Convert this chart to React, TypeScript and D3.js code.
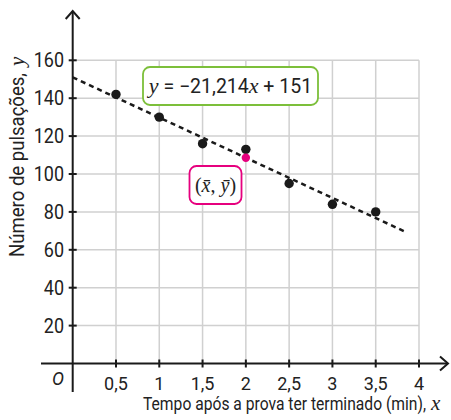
import React from "react";
import * as d3 from "d3";

const xValues = [0.5, 1, 1.5, 2, 2.5, 3, 3.5];
const yValues = [142, 130, 116, 113, 95, 84, 80];
const xTicks = [0.5, 1, 1.5, 2, 2.5, 3, 3.5, 4];
const yTicks = [20, 40, 60, 80, 100, 120, 140, 160];
const slope = -21.214;
const intercept = 151;
const lineEndX = 3.85;
const meanPoint = { x: d3.mean(xValues) as number, y: d3.mean(yValues) as number };

const W = 451;
const H = 420;
const font = "Roboto, 'Noto Sans', sans-serif";
const serif = "'Liberation Serif', 'DejaVu Serif', serif";
const SX = 0.86;

export default function App() {
  const x = d3.scaleLinear().domain([0, 4]).range([72.7, 419]);
  const y = d3.scaleLinear().domain([0, 160]).range([363.5, 60.3]);
  const fmt = (v: number) => String(v).replace(".", ",");
  const axisColor = "#1a1a1a";
  const gridColor = "#d0d0d0";
  const x0 = x(0);
  const y0 = y(0);
  const lineGen = d3.line<number>().x((d) => x(d)).y((d) => y(slope * d + intercept));

  return (
    <div style={{ position: "absolute", left: 0, top: 0 }}>
      <svg width={W} height={H} style={{ display: "block", background: "#fff" }}>
        {/* grid */}
        {xTicks.map((t) => (
          <line key={"gx" + t} x1={x(t)} x2={x(t)} y1={y0} y2={y(160)} stroke={gridColor} strokeWidth={1.5} />
        ))}
        {yTicks.map((t) => (
          <line key={"gy" + t} x1={x0} x2={x(4)} y1={y(t)} y2={y(t)} stroke={gridColor} strokeWidth={1.5} />
        ))}
        {/* axes */}
        <line x1={x0} x2={x0} y1={392} y2={11} stroke={axisColor} strokeWidth={2} />
        <polyline points={`${x0 - 7},${19} ${x0},${11} ${x0 + 7},${19}`} fill="none" stroke={axisColor} strokeWidth={2} />
        <line x1={41} x2={448} y1={y0} y2={y0} stroke={axisColor} strokeWidth={2} />
        <polyline points={`${440},${y0 - 7} ${448},${y0} ${440},${y0 + 7}`} fill="none" stroke={axisColor} strokeWidth={2} />
        {/* ticks */}
        {xTicks.map((t) => (
          <line key={"tx" + t} x1={x(t)} x2={x(t)} y1={y0 - 4} y2={y0 + 4} stroke={axisColor} strokeWidth={2} />
        ))}
        {yTicks.map((t) => (
          <line key={"ty" + t} x1={x0 - 4} x2={x0 + 4} y1={y(t)} y2={y(t)} stroke={axisColor} strokeWidth={2} />
        ))}
        {/* tick labels */}
        {xTicks.map((t) => (
          <text key={"lx" + t} x={x(t)} y={390} textAnchor="middle" fontFamily={font} fontSize={18} fill="#222">
            {fmt(t)}
          </text>
        ))}
        {yTicks.map((t) => (
          <g key={"ly" + t} transform={`translate(64,${y(t) + 7}) scale(0.9,1)`}>
            <text x={0} y={0} textAnchor="end" fontFamily={font} fontSize={20} fill="#222">
              {fmt(t)}
            </text>
          </g>
        ))}
        <text x={58} y={385} textAnchor="middle" fontFamily={font} fontSize={18} fontStyle="italic" fill="#222">O</text>
        {/* axis titles */}
        <g transform={`translate(143,410) scale(${SX},1)`}>
          <text x={0} y={0} fontFamily={font} fontSize={18.5} fill="#222" textLength={283 / SX} lengthAdjust="spacingAndGlyphs">
            Tempo após a prova ter terminado (min),
          </text>
        </g>
        <text x={431} y={410} fontFamily={serif} fontSize={21} fontStyle="italic" fill="#222">x</text>
        <g transform={`translate(24,257) rotate(-90) scale(${SX},1)`}>
          <text x={0} y={0} fontFamily={font} fontSize={19.5} fill="#222" textLength={184 / SX} lengthAdjust="spacingAndGlyphs">
            Número de pulsações,
          </text>
        </g>
        <g transform="translate(24,257) rotate(-90)">
          <text x={191} y={0} fontFamily={serif} fontSize={21} fontStyle="italic" fill="#222">y</text>
        </g>
        {/* regression line */}
        <path d={lineGen([0, lineEndX]) as string} fill="none" stroke={axisColor} strokeWidth={2.5} strokeDasharray="5,4" />
        {/* points */}
        {xValues.map((v, i) => (
          <circle key={"p" + i} cx={x(v)} cy={y(yValues[i])} r={4.7} fill="#1a1a1a" />
        ))}
        <circle cx={x(meanPoint.x)} cy={y(meanPoint.y)} r={4.2} fill="#e6007e" />
        {/* equation box */}
        <rect x={143} y={67} width={175} height={38} rx={7} fill="#fff" stroke="#7cbf3a" strokeWidth={1.8} />
        <text x={230.5} y={93} textAnchor="middle" fontFamily={font} fontSize={19.5} fill="#222">
          <tspan fontFamily={serif} fontStyle="italic" fontSize={22}>y</tspan>
          <tspan> = −21,214</tspan>
          <tspan fontFamily={serif} fontStyle="italic" fontSize={22}>x</tspan>
          <tspan> + 151</tspan>
        </text>
        {/* mean box */}
        <rect x={189.5} y={166} width={52} height={38} rx={7} fill="#fff" stroke="#e6007e" strokeWidth={1.8} />
        <text x={215.5} y={192} textAnchor="middle" fontFamily={serif} fontSize={20} fill="#222">
          <tspan>(</tspan>
          <tspan fontStyle="italic">x̄</tspan>
          <tspan>, </tspan>
          <tspan fontStyle="italic">ȳ</tspan>
          <tspan>)</tspan>
        </text>
      </svg>
    </div>
  );
}
